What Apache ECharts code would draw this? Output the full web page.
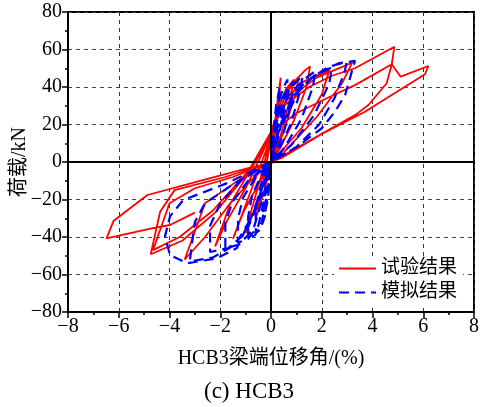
<!DOCTYPE html>
<html>
<head>
    <meta charset="utf-8">
    <title>HCB3</title>
    <script src="https://cdn.jsdelivr.net/npm/echarts@6/dist/echarts.min.js"></script>
</head>
<body style="margin:0">
    <div id="main" style="width: 481px;height:407px;"></div>
<script type="text/javascript">
// 轴范围
var xMin = -8, xMax = 8, xStep = 2;
var yMin = -80, yMax = 80, yStep = 20;

// 试验结果 (梁端位移角 %, 荷载 kN)，按加载顺序
var testData = [
    [0,0],[0.1,15],[0.25,32],[0.38,45],
    [0.33,36],[0.15,14],[0,0],[-0.2,-12],[-0.45,-24],[-0.6,-30],
    [-0.45,-20],[-0.25,-6],[0,12],[0.3,30],[0.6,39],[0.9,44],
    [0.75,34],[0.4,15],[0.1,2],[-0.3,-12],[-0.7,-27],[-1.0,-38],
    [-0.8,-27],[-0.4,-8],[0,14],[0.3,30],[0.7,40],[1.1,45.5],
    [0.95,36],[0.5,16],[0.1,2],[-0.5,-12],[-1.1,-27],[-1.5,-41],
    [-1.25,-32],[-0.7,-12],[-0.2,6],[0,16],[0.4,33],[1.0,44],[1.35,49],[1.54,51],
    [1.4,40],[0.9,22],[0.3,6],[0,0],[-0.8,-10],[-1.6,-22],[-2.2,-45],
    [-1.8,-33],[-1.0,-14],[-0.3,6],[0,16],[0.5,33],[1.3,43],[2.3,49],
    [2.0,36],[1.2,18],[0.3,4],[0,0],[-1.2,-9],[-2.6,-22],[-3.4,-52],
    [-2.6,-40],[-1.5,-20],[-0.4,5],[0,16],[0.6,33],[1.8,45],[3.2,53],
    [2.8,42],[1.8,24],[0.5,5],[0,0],[-1.8,-8],[-3.8,-15],[-4.37,-26.5],[-4.74,-49.2],
    [-3.5,-42],[-2.2,-27],[-0.8,-4],[0,16],[0.5,30],[1.5,40],[2.4,46],[3.31,50],[4.86,61.5],
    [4.76,52.1],[4.56,42],[3.84,30.4],[3.31,25],[1.6,12],[0.3,2],[0,0],[-1.5,-8],[-3.0,-14],[-4.0,-22],[-4.65,-47],
    [-3.6,-40],[-2.3,-26],[-0.9,-5],[0,16],[1.0,26],[2.2,34],[3.31,41],[4.76,52.1],[5.11,45.5],[6.2,51.2],
    [6.07,46.8],[3.7,26.8],[2.0,15],[0.4,2],[0,0],[-2.5,-9],[-4.87,-17.6],[-6.21,-31.5],[-6.48,-40.7],
    [-4.7,-35.4],[-3.98,-33.6],[-3.0,-27]
];

// 模拟结果
var simData = [
    [0,0],[0.08,14],[0.2,30],[0.35,40],
    [0.3,30],[0.18,14],[0.06,4],[0,0],
    [-0.1,-6],[-0.22,-13],[-0.28,-20],[-0.3,-28],
    [-0.22,-26],[-0.12,-20],[-0.05,-9],[0,0],
    [0.1,16],[0.3,32],[0.5,40],[0.65,44],
    [0.6,36],[0.4,20],[0.15,6],[0,0],
    [-0.3,-8],[-0.5,-17],[-0.6,-27],[-0.6,-38],
    [-0.42,-36],[-0.24,-29],[-0.08,-12],[0,0],
    [0.12,17],[0.4,33],[0.7,40],[0.9,43],
    [0.82,34],[0.55,18],[0.2,5],[0,0],
    [-0.45,-9],[-0.75,-18],[-0.9,-29],[-0.9,-41],
    [-0.63,-39],[-0.36,-32],[-0.12,-14],[0,0],
    [0.15,18],[0.55,35],[0.95,42],[1.25,46],
    [1.15,38],[0.8,21],[0.3,6],[0,0],
    [-0.65,-9],[-1.1,-19],[-1.3,-30],[-1.3,-43],
    [-0.9,-41],[-0.5,-34],[-0.18,-15],[0,0],
    [0.2,18],[0.7,36],[1.3,44],[1.75,48.5],
    [1.65,40],[1.2,23],[0.5,7],[0,0],
    [-0.9,-10],[-1.5,-21],[-1.8,-32],[-1.8,-46],
    [-1.25,-44],[-0.7,-36],[-0.25,-16],[0,0],
    [0.25,18],[0.9,37],[1.7,46],[2.4,50.5],
    [2.3,42],[1.7,25],[0.8,9],[0,0],
    [-1.2,-10],[-2.0,-22],[-2.4,-34],[-2.4,-48],
    [-1.7,-46],[-1.0,-38],[-0.35,-17],[0,0],
    [0.3,18],[0.9,35],[1.6,45],[2.3,51],[2.98,53.2],
    [2.9,48],[2.5,34],[1.9,20],[1.0,8],[0,0],
    [-1.5,-12],[-2.6,-22],[-3.0,-32],[-3.1,-42],[-3.2,-53],
    [-2.3,-51],[-1.4,-44],[-0.7,-28],[-0.25,-10],[0,0],
    [0.3,16],[1.08,37.5],[1.73,46.4],[2.65,52.6],[3.31,53.9],
    [3.24,50.8],[2.92,35.7],[2.52,26.8],[2.0,18],[1.0,8],[0,0],
    [-1.75,-11.4],[-3.46,-20.3],[-3.98,-29],[-4.18,-39.8],[-3.98,-49.6],[-3.3,-54],
    [-2.14,-51.4],[-1.35,-46],[-0.8,-30],[-0.3,-12],[0,0]
];

var font = '"Liberation Serif", "Noto Sans CJK SC", serif';

function minusFmt(v) {
    return v < 0 ? '\u2212' + Math.abs(v) : '' + v;
}

var myChart = echarts.init(document.getElementById('main'));

var option = {
    animation: false,
    title: {
        text: '(c) HCB3',
        left: 199,
        top: 375,
        textStyle: { fontFamily: font, fontSize: 23, fontWeight: 'normal', color: '#000' }
    },
    legend: {
        orient: 'vertical',
        left: 334,
        top: 257,
        itemWidth: 37,
        itemHeight: 14,
        itemGap: 5,
        padding: [2, 6, 2, 4],
        backgroundColor: '#fff',
        itemStyle: { opacity: 0 },
        textStyle: { fontFamily: font, fontSize: 19, color: '#000' },
        data: ['试验结果', '模拟结果']
    },
    grid: {
        left: 68, right: 7, top: 12, bottom: 95,
        outerBoundsMode: 'none',
        show: true, borderColor: '#000', borderWidth: 2
    },
    xAxis: {
        type: 'value',
        min: xMin, max: xMax, interval: xStep,
        name: 'HCB3梁端位移角/(%)',
        nameLocation: 'middle',
        nameGap: 37,
        nameMoveOverlap: false,
        nameTextStyle: { fontFamily: font, fontSize: 20, color: '#000' },
        axisLine: { onZero: false, lineStyle: { color: '#000', width: 2 } },
        axisTick: { length: 6, lineStyle: { color: '#000', width: 1.5 } },
        minorTick: { show: true, splitNumber: 2, length: 3, lineStyle: { color: '#000', width: 1.5 } },
        axisLabel: { fontFamily: font, fontSize: 20, color: '#000', margin: 5, formatter: minusFmt },
        splitLine: { show: true, lineStyle: { color: '#333', type: [4, 4], width: 1 } }
    },
    yAxis: {
        type: 'value',
        min: yMin, max: yMax, interval: yStep,
        name: '荷载/kN',
        nameLocation: 'middle',
        nameGap: 38,
        nameMoveOverlap: false,
        nameTextStyle: { fontFamily: font, fontSize: 20, color: '#000' },
        axisLine: { onZero: false, lineStyle: { color: '#000', width: 2 } },
        axisTick: { length: 6, lineStyle: { color: '#000', width: 1.5 } },
        minorTick: { show: true, splitNumber: 2, length: 3, lineStyle: { color: '#000', width: 1.5 } },
        axisLabel: { fontFamily: font, fontSize: 20, color: '#000', margin: 6, formatter: minusFmt },
        splitLine: { show: true, lineStyle: { color: '#444', type: [4, 4], width: 1 } }
    },
    series: [
        {
            name: '试验结果',
            type: 'line',
            symbol: 'none',
            lineStyle: { color: '#ff0000', width: 1.8 },
            itemStyle: { color: '#ff0000' },
            data: testData,
            markLine: {
                silent: true,
                symbol: ['none', 'none'],
                label: { show: false },
                lineStyle: { color: '#000', type: 'solid', width: 2 },
                data: [{ xAxis: 0 }, { yAxis: 0 }]
            }
        },
        {
            name: '模拟结果',
            type: 'line',
            symbol: 'none',
            lineStyle: { color: '#0000ff', width: 2.2, type: [10, 6] },
            itemStyle: { color: '#0000ff' },
            data: simData
        }
    ]
};

myChart.setOption(option);
</script>
</body>
</html>
